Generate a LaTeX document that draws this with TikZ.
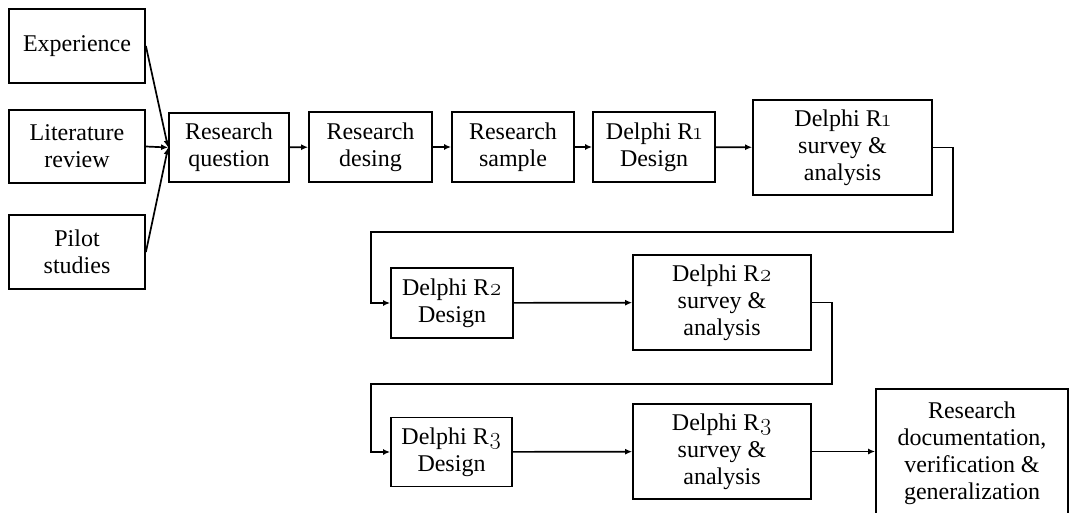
\documentclass[tikz,border=0pt]{standalone}
\usepackage{fontspec}
\setmainfont{Liberation Serif}
\newfontfamily\lmosf{Latin Modern Roman}[Numbers=OldStyle]
\newcommand{\osn}[1]{{\lmosf #1}}
\usetikzlibrary{arrows.meta}
\begin{document}
\begin{tikzpicture}[x=1pt,y=-1pt,
  box/.style={draw, line width=1.8pt, align=center, inner sep=0pt,
    font=\fontsize{24}{27}\selectfont},
  arr/.style={line width=1.7pt, -{Latex[length=7pt,width=6pt]}}]
\useasboundingbox (0,0) rectangle (1071,513);
\clip (0,0) rectangle (1071,513);
\node[box, minimum width=136, minimum height=74] (exp) at (77,46) {Experience};
\node[box, minimum width=136, minimum height=73] (lit) at (77,146.5) {Literature\\review};
\node[box, minimum width=136, minimum height=74] (pil) at (77,252) {Pilot\\studies};
\node[box, minimum width=120, minimum height=69] (rq) at (229,147.5) {Research\\question};
\node[box, minimum width=123, minimum height=70] (rd) at (370.5,147) {Research\\desing};
\node[box, minimum width=122, minimum height=70] (rs) at (513,147) {Research\\sample};
\node[box, minimum width=122, minimum height=70] (d1) at (654,147) {Delphi R\osn{1}\\Design};
\node[box, minimum width=179, minimum height=95] (s1) at (842.5,147.5) {Delphi R\osn{1}\\survey \&\\analysis};
\node[box, minimum width=122, minimum height=70] (d2) at (452,303) {Delphi R\osn{2}\\Design};
\node[box, minimum width=178, minimum height=95] (s2) at (722,302.5) {Delphi R\osn{2}\\survey \&\\analysis};
\node[box, minimum width=121, minimum height=69] (d3) at (451.5,452) {Delphi R\osn{3}\\Design};
\node[box, minimum width=178, minimum height=95] (s3) at (722,451.5) {Delphi R\osn{3}\\survey \&\\analysis};
\node[box, minimum width=192, minimum height=128] (fin) at (972,453) {Research\\documentation,\\verification \&\\generalization};
\coordinate (a1) at (953,232);
\coordinate (a2) at (371,232);
\coordinate (b1) at (832,384);
\coordinate (b2) at (371,384);
\draw[arr] (exp.east) -- (rq.west);
\draw[arr] (lit.east) -- (rq.west);
\draw[arr] (pil.east) -- (rq.west);
\draw[arr] (rq) -- (rd);
\draw[arr] (rd) -- (rs);
\draw[arr] (rs) -- (d1);
\draw[arr] (d1) -- (s1);
\draw[arr] (s1.east) -| (a1) -- (a2) |- (d2.west);
\draw[arr] (d2) -- (s2);
\draw[arr] (s2.east) -| (b1) -- (b2) |- (d3.west);
\draw[arr] (d3) -- (s3);
\draw[arr] (s3) -- (s3 -| fin.west);
\end{tikzpicture}
\end{document}
